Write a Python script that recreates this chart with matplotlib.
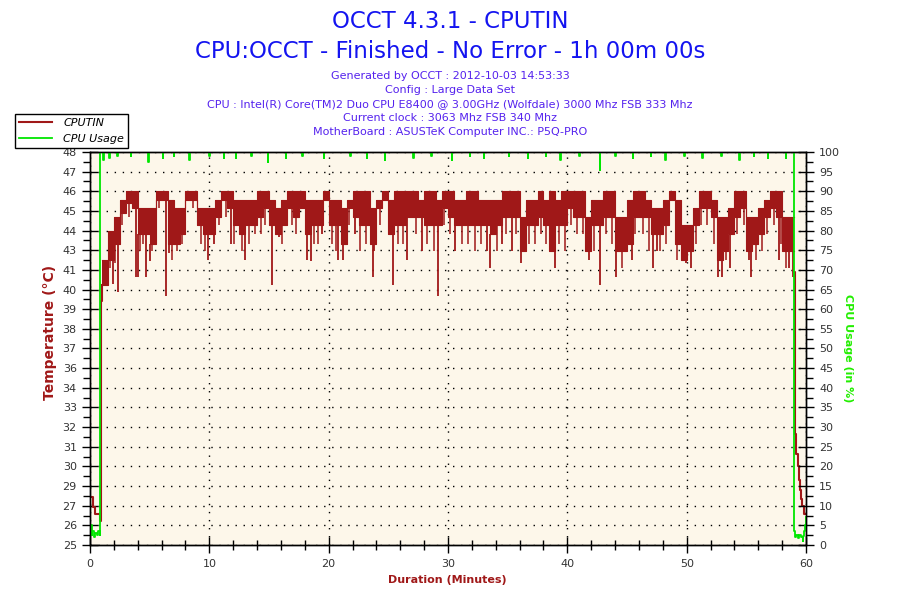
import numpy as np
import matplotlib
matplotlib.use('Agg')
from matplotlib import pyplot as plt
from matplotlib.ticker import MultipleLocator, FixedLocator

# CPUTIN warm-up (before the load starts) and cool-down (after it stops)
warm_minutes = [0, 0.03, 0.28, 0.38, 0.45, 0.8, 0.9, 1.0]
warm_temp = [28.3, 27.8, 27.2, 27.0, 26.8, 26.4, 39.3, 40.2]
cool_minutes = [59.0, 59.04, 59.2, 59.3, 59.4, 59.5, 59.6, 59.7, 59.8, 60.0]
cool_temp = [41.0, 31.5, 30.3, 29.6, 28.8, 28.2, 27.7, 27.3, 26.8, 26.8]

# under load the sensor flickers fast: highest / lowest reading per half minute, from 1.0 min
band_start = 1.0
band_step = 0.5
band_high = [
  41.7, 43.4, 44.2, 45.2, 45.7, 45.7, 44.7, 44.7, 44.7, 45.7,
  45.7, 45.2, 44.7, 44.7, 45.7, 45.7, 44.7, 44.7, 44.7, 45.2,
  45.7, 45.7, 45.2, 45.2, 45.2, 45.2, 45.7, 45.7, 45.2, 44.7,
  45.2, 45.7, 45.7, 45.7, 45.2, 45.2, 45.2, 45.7, 45.2, 45.2,
  44.7, 45.2, 45.7, 45.7, 45.7, 44.7, 45.2, 45.7, 45.2, 45.7,
  45.7, 45.7, 45.7, 45.2, 45.7, 45.7, 45.2, 45.7, 45.7, 45.2,
  45.2, 45.7, 45.7, 45.2, 45.2, 45.2, 45.2, 45.7, 45.7, 45.7,
  44.2, 45.2, 45.2, 45.7, 45.2, 45.7, 45.2, 45.7, 45.7, 45.7,
  45.7, 44.2, 45.2, 45.2, 45.7, 45.7, 44.2, 44.2, 45.2, 45.7,
  45.7, 45.2, 44.7, 44.7, 45.2, 45.7, 45.2, 43.7, 43.7, 44.7,
  45.7, 45.7, 45.2, 44.2, 44.2, 44.7, 45.7, 45.7, 44.2, 44.2,
  44.7, 45.2, 45.7, 45.7, 44.2, 44.2,
]
band_low = [
  40.2, 41.7, 42.6, 44.4, 45.0, 44.7, 43.2, 43.2, 42.6, 45.2,
  45.2, 42.6, 42.6, 43.2, 45.2, 45.2, 43.7, 43.2, 43.2, 44.2,
  45.2, 44.7, 43.7, 43.2, 43.7, 43.7, 44.2, 44.7, 43.7, 43.2,
  43.7, 44.7, 44.2, 44.7, 43.2, 43.7, 43.7, 45.2, 43.7, 43.7,
  42.6, 44.7, 44.2, 43.7, 43.7, 42.6, 44.7, 45.2, 43.2, 43.7,
  43.7, 44.2, 44.2, 44.2, 43.7, 43.7, 43.7, 44.7, 44.2, 43.7,
  43.7, 43.7, 43.7, 43.7, 43.7, 43.2, 43.7, 44.2, 44.2, 44.2,
  42.2, 43.7, 43.7, 44.2, 43.7, 42.2, 43.7, 43.7, 44.7, 44.2,
  44.2, 42.2, 43.7, 43.7, 44.2, 44.2, 42.2, 42.2, 42.6, 44.2,
  44.2, 44.2, 43.2, 43.2, 43.7, 45.2, 42.6, 41.7, 42.2, 43.7,
  44.7, 44.7, 44.2, 41.7, 42.2, 43.2, 44.2, 44.7, 42.2, 42.6,
  43.2, 44.2, 44.7, 44.2, 42.2, 42.2,
]

# short drops below the band
dip_minutes = [1.9, 2.38, 3.85, 4.0, 4.7, 5.0, 6.4, 6.6, 9.9, 10.4,
               11.8, 13.0, 15.25, 15.8, 18.2, 18.5, 19.4, 20.8, 21.2, 22.2,
               23.7, 23.8, 25.35, 26.6, 27.85, 29.2, 30.6, 33.3, 33.5, 34.5,
               35.4, 36.15, 38.7, 39.0, 41.85, 42.75, 44.1, 45.4, 47.2, 47.55,
               49.9, 50.35, 52.6, 52.95, 53.65, 55.2, 55.4, 57.7, 58.6, 58.9]
dip_temp = [40.3, 39.8, 40.7, 40.7, 40.7, 41.6, 39.6, 42.1, 41.7, 42.6,
            42.6, 41.7, 40.2, 43.0, 41.7, 41.6, 43.2, 41.7, 41.7, 43.2,
            40.7, 42.2, 40.2, 41.7, 42.2, 39.6, 42.2, 42.2, 41.2, 42.6,
            42.2, 41.5, 42.2, 41.2, 41.7, 40.2, 40.7, 41.7, 41.2, 42.2,
            41.5, 41.2, 40.7, 40.7, 41.2, 41.7, 40.7, 41.7, 41.2, 40.7]

# smaller drops, giving the ragged lower edge
small_dip_minutes = [1.2, 1.7, 2.1, 2.7, 3.3, 4.2, 4.45, 5.2, 5.8, 6.9,
                     7.3, 7.7, 8.6, 9.3, 9.6, 10.8, 11.4, 12.1, 12.7, 13.3,
                     13.8, 14.3, 14.7, 16.1, 16.9, 17.3, 18.8, 19.1, 20.3, 20.6,
                     21.7, 22.6, 23.1, 24.3, 25.8, 26.2, 27.3, 28.2, 28.8, 29.7,
                     30.2, 31.2, 31.7, 32.3, 32.8, 34.1, 34.9, 35.7, 36.8, 37.3,
                     37.8, 38.2, 39.3, 39.8, 40.3, 40.8, 41.3, 42.2, 43.2, 43.7,
                     44.6, 45.7, 46.3, 46.8, 47.8, 48.3, 49.2, 50.8, 51.2, 51.7,
                     52.3, 53.3, 54.2, 54.8, 55.8, 56.3, 56.7, 57.3, 57.9, 58.3]
small_dip_temp = [40.8, 41.2, 41.5, 43.7, 44.2, 42.2, 42.6, 42.2, 44.7, 41.7,
                  42.2, 42.6, 44.7, 42.6, 42.2, 43.7, 44.2, 42.6, 42.2, 42.6,
                  43.2, 43.2, 43.7, 42.6, 43.7, 43.2, 42.6, 42.6, 42.6, 42.2,
                  43.7, 42.2, 42.6, 43.7, 42.6, 42.6, 43.2, 42.6, 42.2, 43.7,
                  43.2, 42.6, 42.6, 42.2, 42.6, 42.2, 43.2, 43.2, 42.6, 42.6,
                  43.2, 42.6, 42.6, 42.2, 43.7, 43.2, 43.2, 42.2, 43.2, 42.6,
                  41.2, 43.2, 43.2, 42.2, 42.2, 42.6, 41.7, 42.6, 43.7, 43.7,
                  42.6, 41.7, 43.2, 43.7, 41.7, 42.2, 43.2, 43.7, 42.6, 41.2]

# CPU usage (%) : time of each change and the value held from it
cpu_minutes = [0, 0.12, 0.15, 0.2, 0.35, 0.45, 0.6, 0.7, 0.82, 0.87,
               1.1, 1.14, 1.6, 1.64, 2.3, 2.34, 3.4, 3.44, 4.9, 4.94,
               6.1, 6.14, 7.0, 7.04, 8.3, 8.34, 10.0, 10.04, 11.2, 11.24,
               12.2, 12.24, 13.5, 13.54, 14.9, 14.94, 16.4, 16.44, 17.8, 17.84,
               19.6, 19.64, 21.8, 21.84, 23.2, 23.24, 24.7, 24.74, 27.1, 27.14,
               28.6, 28.64, 30.3, 30.34, 31.8, 31.84, 33.0, 33.04, 35.1, 35.14,
               36.7, 36.74, 38.2, 38.24, 39.4, 39.44, 41.0, 41.04, 42.7, 42.75,
               44.0, 44.04, 45.5, 45.54, 47.0, 47.04, 48.2, 48.24, 49.8, 49.84,
               51.3, 51.34, 52.9, 52.94, 54.4, 54.44, 55.6, 55.64, 56.8, 56.84,
               58.3, 58.34, 58.95, 59.05, 59.2, 59.3, 59.45, 59.6, 59.72, 59.76,
               59.85, 59.92, 60]
cpu_usage = [2.5, 5.0, 2.5, 3.5, 2.0, 3.0, 2.5, 3.5, 2.5, 100,
             98.0, 100, 98.5, 100, 99.0, 100, 99.0, 100, 97.5, 100,
             98.5, 100, 99.0, 100, 98.0, 100, 99.0, 100, 98.5, 100,
             98.5, 100, 99.0, 100, 97.5, 100, 98.5, 100, 99.0, 100,
             98.5, 100, 99.0, 100, 98.5, 100, 98.0, 100, 98.5, 100,
             99.0, 100, 98.0, 100, 99.0, 100, 98.5, 100, 99.0, 100,
             98.5, 100, 99.0, 100, 98.0, 100, 99.0, 100, 95.5, 100,
             99.0, 100, 98.5, 100, 99.0, 100, 98.0, 100, 99.0, 100,
             98.5, 100, 99.0, 100, 98.0, 100, 99.0, 100, 98.5, 100,
             98.5, 100, 3.5, 2.0, 2.5, 1.8, 2.5, 2.0, 1.0, 2.2,
             3.5, 5.0, 7.0]

temp_labels = ['25', '26', '27', '29', '30', '31', '32', '33', '34', '36', '37',
               '38', '39', '40', '41', '43', '44', '45', '46', '47', '48']
minute_labels = ['0', '10', '20', '30', '40', '50', '60']

info_lines = [
  'Generated by OCCT : 2012-10-03 14:53:33',
  'Config : Large Data Set',
  'CPU : Intel(R) Core(TM)2 Duo CPU E8400 @ 3.00GHz (Wolfdale) 3000 Mhz FSB 333 Mhz',
  'Current clock : 3063 Mhz FSB 340 Mhz',
  'MotherBoard : ASUSTeK Computer INC.: P5Q-PRO',
]

red = '#a01818'
green = '#00e600'
plt.rcParams['font.family'] = ['DejaVu Sans']

fig = plt.figure(figsize=(9, 6), dpi=100)
fig.patch.set_facecolor('white')
ax = fig.add_axes([0.1, 0.0917, 0.7956, 0.655])
ax.set_facecolor('#fdf7ea')

# temperature
l1, = ax.step(warm_minutes, warm_temp, where='post', color=red, linewidth=1.5)
ax.step(cool_minutes, cool_temp, where='post', color=red, linewidth=1.5)
edges = band_start + band_step * np.arange(len(band_high) + 1)
hi = np.append(band_high, band_high[-1])
lo = np.append(band_low, band_low[-1])
ax.fill_between(edges, lo, hi, step='post', color=red, linewidth=0)
ax.step(edges, hi, where='post', color=red, linewidth=0.8)
ax.step(edges, lo, where='post', color=red, linewidth=0.8)


def band_floor(minutes):
  return [band_low[int((m - band_start) // band_step)] for m in minutes]


ax.vlines(dip_minutes, dip_temp, band_floor(dip_minutes), color=red, linewidth=1.3)
ax.vlines(small_dip_minutes, small_dip_temp, band_floor(small_dip_minutes), color=red, linewidth=1.1)

ax.set_xlim(0, 60)
ax.set_ylim(25, 48)
ax.set_yticks(25 + 23 * np.arange(21) / 20)
ax.set_yticklabels(temp_labels)
ax.yaxis.set_minor_locator(FixedLocator(25 + 23 * (np.arange(20) + 0.5) / 20))
ax.set_xticks(np.arange(0, 61, 10))
ax.set_xticklabels(minute_labels)
ax.xaxis.set_minor_locator(MultipleLocator(2))
ax.grid(True, which='major', color='black', linestyle=(0, (1, 4.8)), linewidth=1.0)
ax.set_axisbelow(True)

ax.tick_params(which='major', direction='inout', length=12, width=1, labelsize=8, labelcolor='#333333')
ax.tick_params(axis='y', which='minor', direction='out', length=5, width=1)
ax.tick_params(axis='x', which='minor', direction='inout', length=7, width=1)
ax.tick_params(axis='x', pad=4)

# cpu usage
ax2 = ax.twinx()
l2, = ax2.step(cpu_minutes, cpu_usage, where='post', color=green, linewidth=1.3)
ax2.set_ylim(0, 100)
ax2.set_yticks(np.arange(0, 101, 5))
ax2.yaxis.set_minor_locator(MultipleLocator(2.5))
ax2.tick_params(which='major', direction='inout', length=12, width=1, labelsize=8, labelcolor='#333333')
ax2.tick_params(which='minor', direction='out', length=5, width=1)

for a in (ax, ax2):
  for s in a.spines.values():
    s.set_color('black')
    s.set_linewidth(1)

fig.text(0.5, 1 - 21 / 600, 'OCCT 4.3.1 - CPUTIN', ha='center', va='center', fontsize=16.5, color='#1414f0')
fig.text(0.5, 1 - 51 / 600, 'CPU:OCCT - Finished - No Error - 1h 00m 00s', ha='center', va='center', fontsize=16.5, color='#1414f0')
for i, line in enumerate(info_lines):
  fig.text(0.5, 1 - (76 + 14 * i) / 600, line, ha='center', va='center', fontsize=8, color='#5522ee')

fig.text(50 / 900, 1 - 332 / 600, 'Temperature (°C)', rotation=90, ha='center', va='center',
         fontsize=10, fontweight='bold', color=red)
fig.text(848 / 900, 1 - 348 / 600, 'CPU Usage (in %)', rotation=270, ha='center', va='center',
         fontsize=8, fontweight='bold', color='#22ee00')
fig.text(447 / 900, 1 - 580 / 600, 'Duration (Minutes)', ha='center', va='center',
         fontsize=8, fontweight='bold', color=red)

fig.legend(handles=[l1, l2], labels=['CPUTIN', 'CPU Usage'], loc='upper left',
           bbox_to_anchor=(15 / 900, 1 - 114 / 600), frameon=True, fancybox=False,
           edgecolor='black', framealpha=1, prop={'style': 'italic', 'size': 8},
           handlelength=3.0, borderpad=0.35, labelspacing=0.55, handletextpad=1.0,
           borderaxespad=0)

fig.savefig('out.png', dpi=100)
